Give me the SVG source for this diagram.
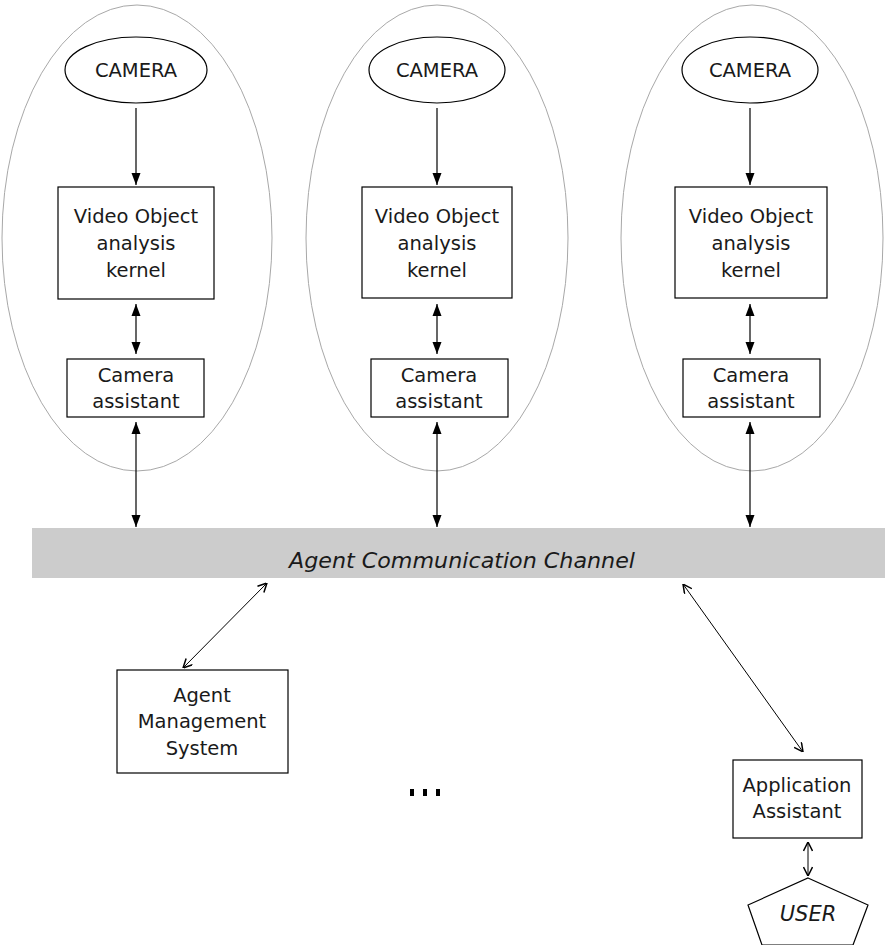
<svg xmlns="http://www.w3.org/2000/svg" width="885" height="945" viewBox="0 0 885 945">
<defs>
<marker id="fa" viewBox="0 0 12 10" refX="12" refY="5" markerWidth="12" markerHeight="10" markerUnits="userSpaceOnUse" orient="auto-start-reverse"><path d="M0,0.5 L12,5 L0,9.5 Z" fill="#000"/></marker>
<marker id="oa" viewBox="0 0 10 10" refX="10" refY="5" markerWidth="10" markerHeight="10" markerUnits="userSpaceOnUse" orient="auto-start-reverse"><path d="M1,0.5 L10,5 L1,9.5" fill="none" stroke="#000" stroke-width="1.5"/></marker>
</defs>
<style>
.big{fill:none;stroke:#a8a8a8;stroke-width:1}
.nd{fill:#fff;stroke:#000;stroke-width:1.2}
.t{font-family:"DejaVu Sans","Liberation Sans",sans-serif;font-size:19.5px;fill:#1a1a1a;text-anchor:middle}
.i{font-style:italic}
.c{stroke:#000;stroke-width:1.2;fill:none}
.f{marker-end:url(#fa)}
.ff{marker-start:url(#fa);marker-end:url(#fa)}
.oo{marker-start:url(#oa);marker-end:url(#oa);stroke-width:1}
</style>
<rect width="885" height="945" fill="#fff"/>
<g id="groups">
<ellipse class="big" cx="137" cy="238" rx="135" ry="233"/>
<ellipse class="big" cx="437" cy="238" rx="131" ry="233"/>
<ellipse class="big" cx="752" cy="238" rx="131" ry="233"/>
</g>
<g id="channel">
<rect x="32" y="528" width="853" height="50" fill="#cccccc"/>
<text class="t i" x="462" y="568" style="font-size:21px" textLength="346" lengthAdjust="spacingAndGlyphs">Agent Communication Channel</text>
</g>
<g id="camera1"><ellipse class="nd" cx="136" cy="70" rx="71" ry="33"/><text class="t" x="136" y="77">CAMERA</text></g>
<g id="camera2"><ellipse class="nd" cx="437" cy="70" rx="68" ry="33"/><text class="t" x="437" y="77">CAMERA</text></g>
<g id="camera3"><ellipse class="nd" cx="750" cy="70" rx="68" ry="33"/><text class="t" x="750" y="77">CAMERA</text></g>
<g id="kernel1"><rect class="nd" x="58" y="187" width="156" height="112"/><text class="t" x="136" y="223">Video Object</text><text class="t" x="136" y="250">analysis</text><text class="t" x="136" y="277">kernel</text></g>
<g id="kernel2"><rect class="nd" x="362" y="187" width="150" height="111"/><text class="t" x="437" y="223">Video Object</text><text class="t" x="437" y="250">analysis</text><text class="t" x="437" y="277">kernel</text></g>
<g id="kernel3"><rect class="nd" x="675" y="187" width="152" height="111"/><text class="t" x="751" y="223">Video Object</text><text class="t" x="751" y="250">analysis</text><text class="t" x="751" y="277">kernel</text></g>
<g id="assistant1"><rect class="nd" x="67" y="359" width="137" height="58"/><text class="t" x="136" y="382">Camera</text><text class="t" x="136" y="408">assistant</text></g>
<g id="assistant2"><rect class="nd" x="371" y="359" width="137" height="58"/><text class="t" x="439" y="382">Camera</text><text class="t" x="439" y="408">assistant</text></g>
<g id="assistant3"><rect class="nd" x="683" y="359" width="137" height="58"/><text class="t" x="751" y="382">Camera</text><text class="t" x="751" y="408">assistant</text></g>
<g id="ams"><rect class="nd" x="117" y="670" width="171" height="103"/><text class="t" x="202" y="702">Agent</text><text class="t" x="202" y="728">Management</text><text class="t" x="202" y="755">System</text></g>
<g id="appassist"><rect class="nd" x="733" y="760" width="129" height="78"/><text class="t" x="797" y="792">Application</text><text class="t" x="797" y="818">Assistant</text></g>
<g id="user"><polygon class="nd" points="808,878 868,905 853,945 762,945 748,905"/><text class="t i" x="808" y="921" style="font-size:21px">USER</text></g>
<g id="ellipsis" fill="#000"><rect x="410" y="789" width="4" height="7"/><rect x="423" y="789" width="4" height="7"/><rect x="436" y="789" width="4" height="7"/></g>
<g id="connectors">
<line class="c f" x1="136" y1="108" x2="136" y2="185"/>
<line class="c f" x1="437" y1="108" x2="437" y2="185"/>
<line class="c f" x1="750" y1="108" x2="750" y2="185"/>
<line class="c ff" x1="136" y1="304" x2="136" y2="354"/>
<line class="c ff" x1="437" y1="304" x2="437" y2="354"/>
<line class="c ff" x1="750" y1="304" x2="750" y2="354"/>
<line class="c ff" x1="136" y1="422" x2="136" y2="527"/>
<line class="c ff" x1="437" y1="422" x2="437" y2="527"/>
<line class="c ff" x1="750" y1="422" x2="750" y2="527"/>
<line class="c oo" x1="183" y1="668" x2="267" y2="583"/>
<line class="c oo" x1="683" y1="584" x2="803" y2="752"/>
<line class="c oo" x1="808" y1="842" x2="808" y2="876"/>
</g>
</svg>
